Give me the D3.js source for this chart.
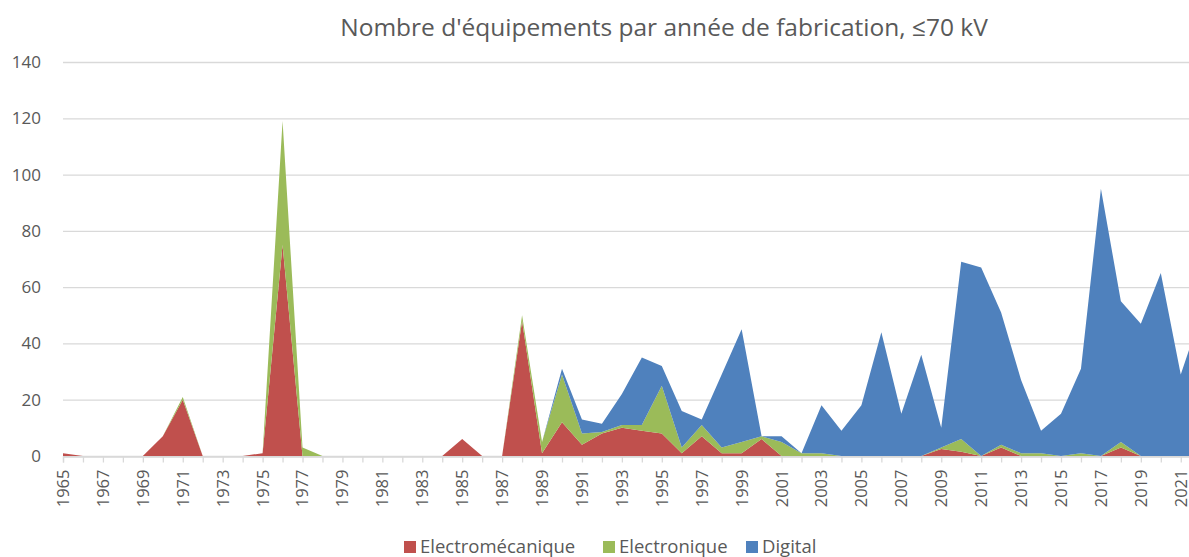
<!DOCTYPE html>
<html>
<head>
<meta charset="utf-8">
<script src="https://cdn.jsdelivr.net/npm/d3@7"></script>
<style>
  body { margin: 0; background: #fff; }
  svg { display: block; font-family: "Open Sans", sans-serif; }
</style>
</head>
<body>
<script>
// years of manufacture, 1965 .. 2022
var years = d3.range(1965, 2023);

// equipment counts per year
var electromecanique = [1, 0, 0, 0, 0, 7, 20, 0, 0, 0, 1, 75, 0, 0, 0, 0, 0, 0, 0, 0,
  6, 0, 0, 48, 1, 12, 4, 8, 10, 9, 8, 1, 7, 1, 1, 6, 0, 0, 0, 0,
  0, 0, 0, 0, 2.5, 1.5, 0, 3, 0, 0, 0, 0, 0, 3, 0, 0, 0, 0];
var electronique = [0, 0, 0, 0, 0, 0, 1, 0, 0, 0, 0, 44, 3, 0, 0, 0, 0, 0, 0, 0,
  0, 0, 0, 2, 4, 17, 4, 0.5, 1, 2, 17, 2, 4, 2, 4, 1, 5, 1, 1, 0,
  0, 0, 0, 0, 0.5, 4.5, 0, 1, 1, 1, 0, 1, 0, 2, 0, 0, 0, 0];
var digital = [0, 0, 0, 0, 0, 0, 0, 0, 0, 0, 0, 0, 0, 0, 0, 0, 0, 0, 0, 0,
  0, 0, 0, 0, 0, 2, 5, 3, 11, 24, 7, 13, 2, 26, 40, 0, 2, 0, 17, 9,
  18, 44, 15, 36, 7, 63, 67, 47, 26, 8, 15, 30, 95, 50, 47, 65, 29, 50];

var seriesNames = ["Electromécanique", "Electronique", "Digital"];
var seriesColors = ["#C0504D", "#9BBB59", "#4F81BD"];
var yTicks = [0, 20, 40, 60, 80, 100, 120, 140];
var titleText = "Nombre d'équipements par année de fabrication, \u226470 kV";

var width = 1189, height = 557;
var plotLeft = 63, yZero = 456, yTop = 62;
var step = 19.96;

var rows = years.map(function (y, i) {
  return { year: y, e0: electromecanique[i], e1: electronique[i], e2: digital[i] };
});

var svg = d3.select("body").append("svg")
  .attr("width", width)
  .attr("height", height);

var x = d3.scaleLinear()
  .domain([1965, 2022])
  .range([plotLeft, plotLeft + step * 57]);

var y = d3.scaleLinear()
  .domain([0, 140])
  .range([yZero, yTop]);

// title
svg.append("text")
  .attr("x", 664)
  .attr("y", 36)
  .attr("text-anchor", "middle")
  .attr("fill", "#595959")
  .style("font-size", "24.5px")
  .text(titleText);

// gridlines
svg.append("g")
  .selectAll("line")
  .data(yTicks)
  .enter()
    .append("line")
    .attr("x1", plotLeft)
    .attr("x2", width)
    .attr("y1", function (d) { return y(d) + 0.5; })
    .attr("y2", function (d) { return y(d) + 0.5; })
    .attr("stroke", "#d9d9d9")
    .attr("stroke-width", 1.3);

// y labels
svg.append("g")
  .selectAll("text")
  .data(yTicks)
  .enter()
    .append("text")
    .attr("x", 41)
    .attr("y", function (d) { return y(d); })
    .attr("dy", "0.35em")
    .attr("text-anchor", "end")
    .attr("fill", "#595959")
    .style("font-size", "17px")
    .text(function (d) { return d; });

// stacked areas
var stack = d3.stack().keys(["e0", "e1", "e2"]);
var layers = stack(rows);

var area = d3.area()
  .x(function (d) { return x(d.data.year); })
  .y0(function (d) { return y(d[0]); })
  .y1(function (d) { return y(d[1]); });

svg.append("g")
  .selectAll("path")
  .data(layers)
  .enter()
    .append("path")
    .attr("d", area)
    .attr("fill", function (d, i) { return seriesColors[i]; });

// x axis
var xAxis = d3.axisBottom(x)
  .tickValues(years)
  .tickSize(6)
  .tickFormat(function (d) { return (d - 1965) % 2 == 0 ? d : ""; });

var gx = svg.append("g")
  .attr("transform", "translate(0," + (yZero + 0.5) + ")")
  .call(xAxis);

gx.select(".domain").attr("stroke", "#d9d9d9").attr("stroke-width", 1.3);
gx.selectAll(".tick line").attr("stroke", "#d9d9d9").attr("stroke-width", 1.3);
gx.selectAll(".tick text")
  .attr("fill", "#595959")
  .style("font-size", "16.5px")
  .style("font-family", "Open Sans, sans-serif")
  .attr("text-anchor", "end")
  .attr("transform", "rotate(-90)")
  .attr("x", -13)
  .attr("y", 0)
  .attr("dy", "0.33em");

// legend
var legendX = [404, 603, 746];
var legend = svg.append("g")
  .selectAll("g")
  .data(seriesNames)
  .enter()
    .append("g")
    .attr("transform", function (d, i) { return "translate(" + legendX[i] + ",541)"; });

legend.append("rect")
  .attr("width", 12)
  .attr("height", 12)
  .attr("fill", function (d, i) { return seriesColors[i]; });

legend.append("text")
  .attr("x", 16)
  .attr("y", 6)
  .attr("dy", "0.35em")
  .attr("fill", "#595959")
  .style("font-size", "18.5px")
  .text(function (d) { return d; });
</script>
</body>
</html>
